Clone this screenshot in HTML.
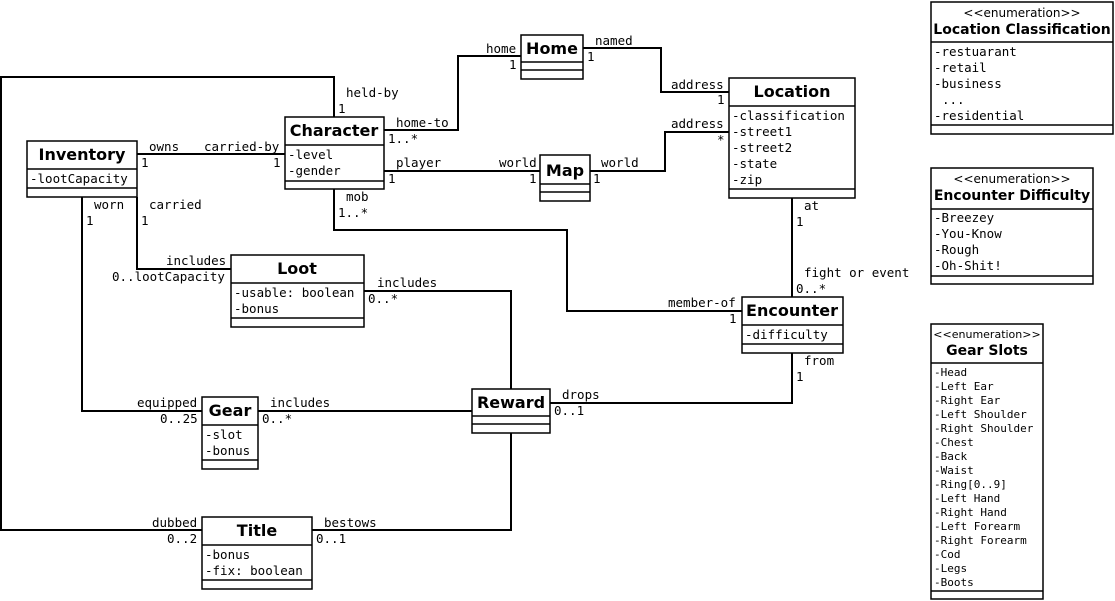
<!DOCTYPE html>
<html><head><meta charset="utf-8"><style>
html,body{margin:0;padding:0;background:#fff;}
svg{display:block;}
.m{font-family:"DejaVu Sans Mono","Liberation Mono",monospace;font-size:12.5px;fill:#000;}
.s{font-family:"DejaVu Sans Mono","Liberation Mono",monospace;font-size:11px;fill:#000;}
.t{font-family:"DejaVu Sans","Liberation Sans",sans-serif;font-size:16px;font-weight:bold;fill:#000;}
.ts{font-family:"DejaVu Sans","Liberation Sans",sans-serif;font-size:14px;font-weight:bold;fill:#000;}
.st{font-family:"DejaVu Sans","Liberation Sans",sans-serif;font-size:12px;fill:#000;}
.st2{font-family:"DejaVu Sans","Liberation Sans",sans-serif;font-size:11px;fill:#000;}
rect,line{stroke:#000;stroke-width:1.5;fill:#fff;}
polyline{stroke:#000;stroke-width:2;fill:none;}
</style></head><body>
<svg width="1115" height="601" xmlns="http://www.w3.org/2000/svg">
<polyline points="334,117 334,77 1,77 1,530 202,530"/>
<polyline points="137,154 285,154"/>
<polyline points="82,197 82,411 202,411"/>
<polyline points="137,197 137,269 231,269"/>
<polyline points="384,130 458,130 458,56 521,56"/>
<polyline points="384,171 540,171"/>
<polyline points="334,189 334,230 567,230 567,311 742,311"/>
<polyline points="583,48 661,48 661,92 729,92"/>
<polyline points="590,171 665,171 665,132 729,132"/>
<polyline points="792,198 792,297"/>
<polyline points="792,353 792,403 550,403"/>
<polyline points="364,291 511,291 511,389"/>
<polyline points="258,411 472,411"/>
<polyline points="511,433 511,530 312,530"/>

<rect x="27" y="141" width="110" height="56"/><line x1="27" y1="169" x2="137" y2="169"/><line x1="27" y1="188" x2="137" y2="188"/>
<text class="t" x="82" y="160" text-anchor="middle">Inventory</text>
<text class="m" x="30" y="183">-lootCapacity</text>
<rect x="285" y="117" width="99" height="72"/><line x1="285" y1="145" x2="384" y2="145"/><line x1="285" y1="181" x2="384" y2="181"/>
<text class="t" x="334" y="136" text-anchor="middle">Character</text>
<text class="m" x="288" y="159">-level</text><text class="m" x="288" y="175">-gender</text>
<rect x="521" y="35" width="62" height="44"/><line x1="521" y1="62" x2="583" y2="62"/><line x1="521" y1="70" x2="583" y2="70"/>
<text class="t" x="552" y="54" text-anchor="middle">Home</text>
<rect x="540" y="155" width="50" height="46"/><line x1="540" y1="184" x2="590" y2="184"/><line x1="540" y1="192" x2="590" y2="192"/>
<text class="t" x="565" y="176" text-anchor="middle">Map</text>
<rect x="729" y="78" width="126" height="120"/><line x1="729" y1="106" x2="855" y2="106"/><line x1="729" y1="189" x2="855" y2="189"/>
<text class="t" x="792" y="97" text-anchor="middle">Location</text>
<text class="m" x="732" y="120">-classification</text><text class="m" x="732" y="136">-street1</text><text class="m" x="732" y="152">-street2</text><text class="m" x="732" y="168">-state</text><text class="m" x="732" y="184">-zip</text>
<rect x="231" y="255" width="133" height="72"/><line x1="231" y1="283" x2="364" y2="283"/><line x1="231" y1="318" x2="364" y2="318"/>
<text class="t" x="297" y="274" text-anchor="middle">Loot</text>
<text class="m" x="234" y="297">-usable: boolean</text><text class="m" x="234" y="313">-bonus</text>
<rect x="742" y="297" width="101" height="56"/><line x1="742" y1="325" x2="843" y2="325"/><line x1="742" y1="344" x2="843" y2="344"/>
<text class="t" x="792" y="316" text-anchor="middle">Encounter</text>
<text class="m" x="745" y="339">-difficulty</text>
<rect x="202" y="397" width="56" height="72"/><line x1="202" y1="425" x2="258" y2="425"/><line x1="202" y1="460" x2="258" y2="460"/>
<text class="t" x="230" y="416" text-anchor="middle">Gear</text>
<text class="m" x="205" y="439">-slot</text><text class="m" x="205" y="455">-bonus</text>
<rect x="472" y="389" width="78" height="44"/><line x1="472" y1="416" x2="550" y2="416"/><line x1="472" y1="424" x2="550" y2="424"/>
<text class="t" x="511" y="408" text-anchor="middle">Reward</text>
<rect x="202" y="517" width="110" height="72"/><line x1="202" y1="545" x2="312" y2="545"/><line x1="202" y1="580" x2="312" y2="580"/>
<text class="t" x="257" y="536" text-anchor="middle">Title</text>
<text class="m" x="205" y="559">-bonus</text><text class="m" x="205" y="575">-fix: boolean</text>

<rect x="931" y="2" width="182" height="132"/><line x1="931" y1="42" x2="1113" y2="42"/><line x1="931" y1="125" x2="1113" y2="125"/>
<text class="st" x="1022" y="17" text-anchor="middle">&lt;&lt;enumeration&gt;&gt;</text>
<text class="ts" x="1022" y="34" text-anchor="middle">Location Classification</text>
<text class="m" x="934" y="56">-restuarant</text><text class="m" x="934" y="72">-retail</text><text class="m" x="934" y="88">-business</text><text class="m" x="942" y="104">...</text><text class="m" x="934" y="120">-residential</text>
<rect x="931" y="168" width="162" height="116"/><line x1="931" y1="209" x2="1093" y2="209"/><line x1="931" y1="276" x2="1093" y2="276"/>
<text class="st" x="1012" y="183" text-anchor="middle">&lt;&lt;enumeration&gt;&gt;</text>
<text class="ts" x="1012" y="200" text-anchor="middle">Encounter Difficulty</text>
<text class="m" x="934" y="222">-Breezey</text><text class="m" x="934" y="238">-You-Know</text><text class="m" x="934" y="254">-Rough</text><text class="m" x="934" y="270">-Oh-Shit!</text>
<rect x="931" y="324" width="112" height="275"/><line x1="931" y1="363" x2="1043" y2="363"/><line x1="931" y1="591" x2="1043" y2="591"/>
<text class="st2" x="987" y="338" text-anchor="middle">&lt;&lt;enumeration&gt;&gt;</text>
<text class="ts" x="987" y="355" text-anchor="middle">Gear Slots</text>
<text class="s" x="934" y="376">-Head</text><text class="s" x="934" y="390">-Left Ear</text><text class="s" x="934" y="404">-Right Ear</text><text class="s" x="934" y="418">-Left Shoulder</text><text class="s" x="934" y="432">-Right Shoulder</text><text class="s" x="934" y="446">-Chest</text><text class="s" x="934" y="460">-Back</text><text class="s" x="934" y="474">-Waist</text><text class="s" x="934" y="488">-Ring[0..9]</text><text class="s" x="934" y="502">-Left Hand</text><text class="s" x="934" y="516">-Right Hand</text><text class="s" x="934" y="530">-Left Forearm</text><text class="s" x="934" y="544">-Right Forearm</text><text class="s" x="934" y="558">-Cod</text><text class="s" x="934" y="572">-Legs</text><text class="s" x="934" y="586">-Boots</text>

<text class="m" x="346" y="97">held-by</text><text class="m" x="338" y="113">1</text>
<text class="m" x="149" y="151">owns</text><text class="m" x="204" y="151">carried-by</text>
<text class="m" x="141" y="167">1</text><text class="m" x="273" y="167">1</text>
<text class="m" x="94" y="209">worn</text><text class="m" x="149" y="209">carried</text>
<text class="m" x="86" y="225">1</text><text class="m" x="141" y="225">1</text>
<text class="m" x="396" y="127">home-to</text><text class="m" x="388" y="143">1..*</text>
<text class="m" x="486" y="53">home</text><text class="m" x="509" y="69">1</text>
<text class="m" x="595" y="45">named</text><text class="m" x="587" y="61">1</text>
<text class="m" x="671" y="89">address</text><text class="m" x="717" y="104">1</text>
<text class="m" x="671" y="128">address</text><text class="m" x="717" y="144">*</text>
<text class="m" x="396" y="167">player</text><text class="m" x="388" y="183">1</text>
<text class="m" x="499" y="167">world</text><text class="m" x="529" y="183">1</text>
<text class="m" x="601" y="167">world</text><text class="m" x="593" y="183">1</text>
<text class="m" x="346" y="201">mob</text><text class="m" x="338" y="217">1..*</text>
<text class="m" x="804" y="210">at</text><text class="m" x="796" y="226">1</text>
<text class="m" x="804" y="277">fight or event</text><text class="m" x="796" y="293">0..*</text>
<text class="m" x="668" y="307">member-of</text><text class="m" x="729" y="323">1</text>
<text class="m" x="804" y="365">from</text><text class="m" x="796" y="381">1</text>
<text class="m" x="166" y="265">includes</text><text class="m" x="112" y="281">0..lootCapacity</text>
<text class="m" x="377" y="287">includes</text><text class="m" x="368" y="303">0..*</text>
<text class="m" x="137" y="407">equipped</text><text class="m" x="160" y="423">0..25</text>
<text class="m" x="270" y="407">includes</text><text class="m" x="262" y="423">0..*</text>
<text class="m" x="562" y="399">drops</text><text class="m" x="554" y="415">0..1</text>
<text class="m" x="152" y="527">dubbed</text><text class="m" x="167" y="543">0..2</text>
<text class="m" x="324" y="527">bestows</text><text class="m" x="316" y="543">0..1</text>
</svg>
</body></html>
